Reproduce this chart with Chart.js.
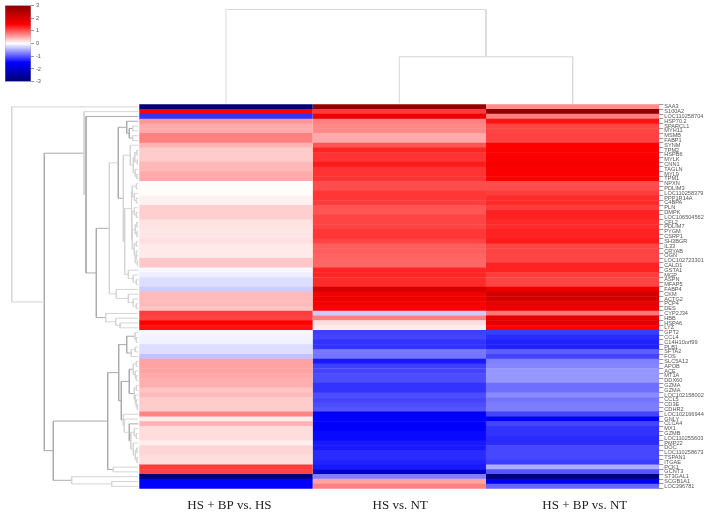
<!DOCTYPE html>
<html>
<head>
<meta charset="utf-8">
<title>Heatmap</title>
<script src="https://cdn.jsdelivr.net/npm/chart.js@4/dist/chart.umd.min.js"></script>
<style>
  html, body { margin: 0; padding: 0; background: #fff; }
  #heatmap { position: absolute; left: 0; top: 0; filter: blur(0.3px); }
  #colorKey { position: absolute; left: 0; top: 0; filter: blur(0.3px); }
</style>
</head>
<body>
<canvas id="heatmap" width="708" height="514"></canvas>
<canvas id="colorKey" width="60" height="90"></canvas>
<script>
// === Data ===
const comparisons = ["HS + BP vs. HS", "HS vs. NT", "HS + BP vs. NT"];
const genes = [
  "SAA3", "S100A2", "LOC110258704", "HSP70.2", "SPARCL1", "MYH11", "MSMB", "FABP1", "SYNM", "TPM2",
  "HSPB6", "MYLK", "CNN1", "TAGLN", "MYL9", "TPM1", "NPXN", "PDLIM3", "LOC110258379", "PPP1R14A",
  "C4BPA", "PLN", "DMPK", "LOC106504562", "CFL2", "PDLIM7", "PYGM", "CSRP1", "SH3BGR", "IL33",
  "CRYAB", "OGN", "LOC102723301", "CALD1", "GSTA1", "MGP", "ASPN", "MFAP5", "FABP4", "CKM",
  "ACTG2", "PCP4", "DES", "CYP2J34", "HBB", "HSPA6", "LYZ", "GPT2", "CCL4", "C14H10orf99",
  "PLB1", "SFTA2", "FOS", "SLC5A12", "APOB", "ACE", "MT1A", "DDX60", "GZMA", "GZMA",
  "LOC102158002", "CCL5", "CD3E", "CDHR2", "LOC102166944", "GNLY", "CLCA4", "MX1", "GZMB", "LOC110255603",
  "PMP22", "DOC", "LOC110258673", "TSPAN1", "ITGAE", "PCK1", "GCNT3", "ST3GAL1", "SCGB1A1", "LOC396781"
];
const hsBpVsHs = [
  -2.9, 1.5, -1.2, 0.62, 0.5, 0.5, 0.75, 0.75, 0.45, 0.3,
  0.3, 0.3, 0.42, 0.42, 0.5, 0.5, 0.02, 0.02, 0.02, 0.08,
  0.08, 0.28, 0.28, 0.28, 0.17, 0.17, 0.15, 0.15, 0.18, 0.13,
  0.13, 0.13, 0.33, 0.33, -0.05, -0.1, -0.2, -0.2, -0.3, 0.4,
  0.4, 0.4, 0.35, 1.15, 1.1, 1.5, 1.4, -0.05, -0.07, -0.08,
  -0.2, -0.2, -0.35, 0.55, 0.55, 0.55, 0.5, 0.47, 0.47, 0.35,
  0.4, 0.3, 0.3, 0.3, 0.72, 0.12, 0.45, 0.2, 0.2, 0.2,
  0.1, 0.25, 0.25, 0.2, 0.2, 1.15, 1.1, -2.9, -1.5, -1.5
];
const hsVsNt = [
  2.9, 1.15, 1.75, 0.75, 0.7, 0.7, 0.5, 0.5, 1.0, 1.28,
  1.2, 1.2, 1.35, 1.2, 1.2, 1.2, 1.05, 1.05, 1.18, 1.18,
  1.15, 1.0, 1.0, 1.1, 1.1, 1.1, 1.18, 1.18, 1.1, 0.95,
  0.95, 0.92, 0.9, 0.9, 1.28, 1.28, 1.25, 1.25, 2.05, 1.7,
  1.75, 1.6, 1.5, -0.3, 0.75, 0.2, 0.1, -1.13, -1.1, -1.2,
  -1.2, -0.8, -0.82, -1.35, -1.13, -1.1, -1.05, -1.05, -1.2, -1.2,
  -1.05, -1.1, -1.05, -1.0, -1.55, -1.5, -1.5, -1.55, -1.45, -1.45,
  -1.35, -1.35, -1.25, -1.25, -1.3, -1.35, -2.0, -0.75, 0.55, 0.75
];
const hsBpVsNt = [
  0.68, 2.95, 0.75, 1.4, 1.1, 1.1, 1.12, 1.1, 1.5, 1.5,
  1.5, 1.55, 1.6, 1.55, 1.55, 1.52, 1.05, 1.05, 1.15, 1.25,
  1.25, 1.15, 1.3, 1.3, 1.25, 1.25, 1.3, 1.3, 1.35, 1.1,
  1.1, 1.1, 1.1, 1.3, 1.3, 1.15, 1.1, 1.1, 1.75, 2.05,
  2.05, 1.8, 1.75, 0.8, 1.85, 1.85, 1.5, -1.15, -1.25, -1.3,
  -1.3, -0.95, -1.1, -0.75, -0.72, -0.62, -0.62, -0.62, -0.85, -0.85,
  -0.68, -0.82, -0.77, -0.77, -1.1, -1.5, -1.1, -1.2, -1.2, -1.25,
  -1.25, -1.08, -1.08, -1.08, -1.15, -0.48, -1.0, -2.9, -1.65, -0.9
];
const keyTicks = [-3, -2, -1, 0, 1, 2, 3];

// dendrogram merges: [height, child, child], a child is a row number or another merge
const rowTree = [127.6, 0,
  [95,
    [55.3, 1,
      [53.3, 2,
        [43,
          [30,
            [21,
              [12.6, 3, [10, [6.6, 4, 5], [6.6, 6, 7]]],
              [16,
                [9, 8, [6, [4.5, [2.5, 9, 10], [2, 11, 12]], [4, 13, [2.5, 14, 15]]]],
                [14.6,
                  [8,
                    [7, [3, 16, 17], [5, 18, [3, 19, 20]]],
                    [7.5,
                      [5, 21, [3, 22, 23]],
                      [7, [4, [2.5, 24, 25], [2.5, 26, 27]], [5, [3, 28, 29], [3, 30, [4, 31, [2, 32, 33]]]]]
                    ]
                  ],
                  [11, 34, [6, 35, [3, 36, 37]]]
                ]
              ]
            ],
            [23, 38, [11, 39, [6, 40, [3, 41, 42]]]]
          ],
          [33.6, 43, [23.6, 44, [19.3, 45, 46]]]
        ]
      ]
    ],
    [86,
      [31.6,
        [20.6,
          [12.6, [4.3, 47, [3, 48, 49]], [8, [4, 50, 51], 52]],
          [18,
            [10, [6, [3, 53, 54], [4, 55, [3, 56, 57]]], [5, [3, 58, 59], [4, 60, [3, 61, [2, 62, 63]]]]],
            [16, 64, [15, 65, [10, 66, [8.5, [5, 67, [3, 68, 69]], [6, 70, [4, [2.5, 71, 72], [2.5, 73, 74]]]]]]]
          ]
        ],
        [26, 75, 76]
      ],
      [67.6, 77, [27.6, 78, 79]]
    ]
  ]
];
const colTree = [94.9, 0, [47.7, 1, 2]];
const darkMerges = [95, 86, 53.3, 43, 31.6, 21, 20.6, 18, 12.6, 10];

// === Colours ===
const colorStops = [
  [-3, [0, 0, 110]],
  [-1.5, [0, 0, 255]],
  [0, [255, 255, 255]],
  [1.5, [255, 0, 0]],
  [3, [139, 0, 0]]
];

function rgb(c) {
  return "rgb(" + c.map(Math.round).join(",") + ")";
}

function heatColor(v) {
  for (let i = 1; i < colorStops.length; i++) {
    const [v0, c0] = colorStops[i - 1];
    const [v1, c1] = colorStops[i];
    if (v <= v1) {
      const t = Math.max(0, (v - v0) / (v1 - v0));
      return rgb(c0.map((c, k) => c + (c1[k] - c) * t));
    }
  }
  return rgb(colorStops[colorStops.length - 1][1]);
}

// === Dendrograms ===
const LEAF_GAP = 1;

// walks a tree and pushes each merge as a U shape, broken up by null points
function walkTree(node, leafPos, toPoint, dark, light) {
  if (typeof node === "number") return { pos: leafPos(node), h: LEAF_GAP };
  const [h, a, b] = node;
  const ca = walkTree(a, leafPos, toPoint, dark, light);
  const cb = walkTree(b, leafPos, toPoint, dark, light);
  const out = darkMerges.includes(h) ? dark : light;
  out.push(toPoint(ca.pos, ca.h), toPoint(ca.pos, h), toPoint(cb.pos, h), toPoint(cb.pos, cb.h), { x: null, y: null });
  return { pos: (ca.pos + cb.pos) / 2, h };
}

const rowDark = [], rowLight = [], colLines = [];
walkTree(rowTree, (i) => i, (pos, h) => ({ x: h, y: pos }), rowDark, rowLight);
walkTree(colTree, (i) => i + 0.5, (pos, h) => ({ x: pos, y: h }), colLines, colLines);

function treeDataset(data, color, xAxisID, yAxisID) {
  return {
    type: "scatter", data, xAxisID, yAxisID, showLine: true,
    borderColor: color, borderWidth: 1, pointRadius: 0, order: 2
  };
}

function columnDataset(values, col) {
  return {
    type: "bar",
    indexAxis: "y",
    data: values.map((v, i) => ({ x: [col, col + 1], y: i })),
    backgroundColor: values.map(heatColor),
    borderWidth: 0,
    grouped: false,
    barPercentage: 1.1,
    categoryPercentage: 1,
    xAxisID: "x",
    yAxisID: "y",
    order: 1
  };
}

// === Main chart ===
new Chart(document.getElementById("heatmap"), {
  type: "bar",
  data: {
    datasets: [
      columnDataset(hsBpVsHs, 0),
      columnDataset(hsVsNt, 1),
      columnDataset(hsBpVsNt, 2),
      treeDataset(rowLight, "#d4d4d4", "xTree", "y"),
      treeDataset(rowDark, "#aaaaaa", "xTree", "y"),
      treeDataset(colLines, "#d8d8d8", "x", "yTree")
    ]
  },
  options: {
    responsive: false,
    animation: false,
    layout: { padding: 0 },
    plugins: { legend: { display: false }, tooltip: { enabled: false } },
    scales: {
      x: {
        type: "linear", position: "bottom", min: -0.8037, max: 3, offset: false,
        grid: { display: false }, border: { display: false },
        afterFit: (s) => { s.height = 25.3; s.paddingLeft = 0; s.paddingRight = 0; },
        afterBuildTicks: (s) => { s.ticks = [0.52, 1.505, 2.57].map((value) => ({ value })); },
        ticks: {
          autoSkip: false, maxRotation: 0, padding: 1, color: "#222",
          font: { family: "'Liberation Serif', serif", size: 13 },
          callback: (v) => comparisons[Math.floor(v)]
        }
      },
      y: {
        type: "linear", position: "right", reverse: true, min: -22.25, max: 79.5, offset: false,
        grid: { display: true, drawOnChartArea: false, drawTicks: true, tickLength: 4, tickColor: "#999", tickWidth: 1 },
        border: { display: false },
        afterFit: (s) => { s.width = 48.7; s.paddingTop = 0; s.paddingBottom = 0; },
        afterBuildTicks: (s) => { s.ticks = genes.map((g, i) => ({ value: i })); },
        ticks: {
          autoSkip: false, maxRotation: 0, padding: 1, color: "#555",
          font: { family: "'Liberation Sans', Arial, sans-serif", size: 5.6 },
          callback: (v) => genes[v]
        }
      },
      xTree: { type: "linear", display: false, reverse: true, min: -520, max: 139.3, offset: false },
      yTree: { type: "linear", display: false, min: -384.3, max: 104.4, offset: false }
    }
  }
});

// === Colour key ===
new Chart(document.getElementById("colorKey"), {
  type: "bar",
  data: {
    labels: [""],
    datasets: [{
      data: [[keyTicks[0], keyTicks[keyTicks.length - 1]]],
      barPercentage: 1,
      categoryPercentage: 1,
      borderWidth: 0.7,
      borderColor: "#a9a9bb",
      borderSkipped: false,
      backgroundColor: (c) => {
        const area = c.chart.chartArea;
        if (!area) return "#fff";
        const g = c.chart.ctx.createLinearGradient(0, area.bottom, 0, area.top);
        colorStops.forEach(([v, col]) => g.addColorStop((v + 3) / 6, rgb(col)));
        return g;
      }
    }]
  },
  options: {
    responsive: false,
    animation: false,
    layout: { padding: { left: 5, top: 5.3, bottom: 8.3, right: 0 } },
    plugins: { legend: { display: false }, tooltip: { enabled: false } },
    scales: {
      x: { display: false },
      y: {
        type: "linear", position: "right", min: -3, max: 3,
        grid: { display: true, drawOnChartArea: false, drawTicks: true, tickLength: 3, tickColor: "#999", tickWidth: 1 },
        border: { display: false },
        afterFit: (s) => { s.width = 29; s.paddingTop = 0; s.paddingBottom = 0; },
        afterBuildTicks: (s) => { s.ticks = keyTicks.map((value) => ({ value })); },
        ticks: {
          padding: 2, color: "#555",
          font: { family: "'Liberation Sans', Arial, sans-serif", size: 5.6 }
        }
      }
    }
  }
});
</script>
</body>
</html>
